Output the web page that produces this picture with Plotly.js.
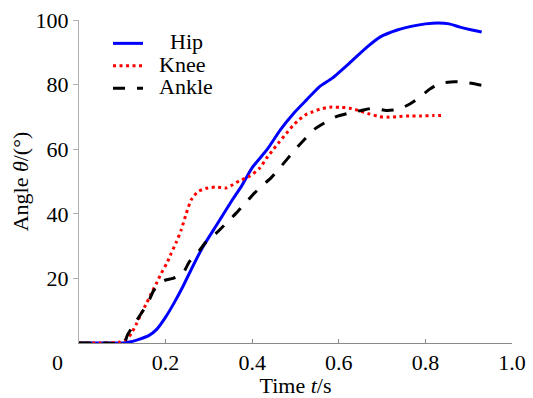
<!DOCTYPE html>
<html>
<head>
<meta charset="utf-8">
<script src="https://cdn.plot.ly/plotly-3.0.1.min.js"></script>
<style>html,body{margin:0;padding:0;background:#fff;}#chart{width:533px;height:398px;}</style>
</head>
<body>
<div id="chart"></div>
<script>
// ---- data (time in s, angle in degrees) ----
var hipT = [0, 0.06, 0.10, 0.12, 0.14, 0.16, 0.18, 0.20, 0.22, 0.24, 0.26, 0.285, 0.32, 0.355, 0.375, 0.40, 0.435, 0.465, 0.495, 0.525, 0.555, 0.585, 0.625, 0.665, 0.695, 0.735, 0.77, 0.80, 0.83, 0.855, 0.88, 0.905, 0.93];
var hipY = [0, 0, 0, 0.4, 1.2, 2.2, 4.3, 8.0, 12.5, 17.5, 23.0, 29.5, 37.0, 44.5, 48.5, 54.3, 60.0, 66.0, 71.0, 75.2, 79.3, 82.0, 86.7, 91.6, 94.7, 96.9, 98.1, 98.8, 99.1, 98.8, 97.8, 97.0, 96.3];

var kneeT = [0, 0.06, 0.095, 0.11, 0.121, 0.133, 0.144, 0.156, 0.167, 0.179, 0.19, 0.202, 0.213, 0.225, 0.236, 0.248, 0.259, 0.275, 0.294, 0.317, 0.34, 0.355, 0.371, 0.394, 0.417, 0.433, 0.448, 0.463, 0.479, 0.494, 0.509, 0.525, 0.54, 0.556, 0.579, 0.602, 0.625, 0.648, 0.671, 0.694, 0.717, 0.74, 0.763, 0.787, 0.817, 0.844];
var kneeY = [0, 0, 0.3, 1.2, 3.0, 6.0, 9.2, 12.3, 15.4, 18.5, 21.6, 24.5, 27.8, 31.3, 35.0, 40.2, 44.3, 46.9, 47.9, 48.3, 48.0, 49.0, 50.3, 51.6, 54.1, 57.2, 59.8, 62.3, 64.9, 67.3, 69.2, 70.8, 71.6, 72.4, 73.0, 73.0, 72.7, 71.9, 70.9, 70.1, 69.9, 70.1, 70.3, 70.3, 70.4, 70.5];

var ankleT = [0, 0.06, 0.104, 0.112, 0.121, 0.144, 0.159, 0.171, 0.186, 0.20, 0.217, 0.24, 0.255, 0.279, 0.294, 0.317, 0.34, 0.363, 0.382, 0.405, 0.425, 0.444, 0.463, 0.502, 0.544, 0.594, 0.621, 0.652, 0.679, 0.71, 0.737, 0.764, 0.787, 0.81, 0.833, 0.867, 0.895, 0.93];
var ankleY = [0, 0, 0, 2.5, 4.5, 9.2, 12.3, 15.9, 18.5, 19.5, 20.0, 21.6, 25.2, 28.8, 31.4, 34.0, 37.1, 40.2, 43.0, 46.4, 48.9, 51.2, 54.1, 60.3, 66.2, 70.1, 71.1, 72.0, 72.7, 72.0, 72.3, 74.0, 76.1, 78.6, 80.4, 80.9, 80.6, 79.8];

var seriesNames = ["Hip", "Knee", "Ankle"];
var xTickVals = [0.2, 0.4, 0.6, 0.8, 1.0];
var xTickText = ["0.2", "0.4", "0.6", "0.8", "1.0"];
var yTickVals = [20, 40, 60, 80, 100];
var yTickText = ["20", "40", "60", "80", "100"];
var cornerLabel = "0";

var FONT = '"Liberation Serif", "Times New Roman", serif';
function legendName(s, pad) {
  return '<span style="font-size:22px">' + pad + s + '</span>';
}

var traces = [
  {x: hipT, y: hipY, name: legendName(seriesNames[0], '\u00a0\u00a0\u00a0\u00a0'), mode: 'lines',
   line: {color: '#0000ff', width: 3, shape: 'spline', smoothing: 0.5}},
  {x: kneeT, y: kneeY, name: legendName(seriesNames[1], '\u00a0\u00a0'), mode: 'lines',
   line: {color: '#ff0000', width: 3, dash: '3px,3.5px', shape: 'spline', smoothing: 0.5}},
  {x: ankleT, y: ankleY, name: legendName(seriesNames[2], '\u00a0\u00a0'), mode: 'lines',
   line: {color: '#000000', width: 3, dash: '12px,12px', shape: 'spline', smoothing: 0.5}}
];

var layout = {
  width: 533, height: 398,
  margin: {l: 79, r: 21, t: 20, b: 55},
  paper_bgcolor: '#ffffff', plot_bgcolor: '#ffffff',
  font: {family: FONT, size: 22, color: '#000'},
  showlegend: true,
  legend: {x: 0.067, y: 0.978, xanchor: 'left', yanchor: 'top',
           bgcolor: 'rgba(0,0,0,0)', borderwidth: 0,
           font: {family: FONT, size: 15, color: '#000'}, tracegroupgap: 0},
  xaxis: {range: [0, 1.0], showgrid: false, zeroline: false, showline: true,
          linecolor: '#8a8a8a', linewidth: 1, ticks: 'inside', ticklen: 4, tickcolor: '#8a8a8a',
          tickvals: xTickVals, ticktext: xTickText, tickfont: {family: FONT, size: 22},
          title: {text: 'Time <i>t</i>/s', font: {family: FONT, size: 22}, standoff: 8}},
  yaxis: {range: [0, 100], showgrid: false, zeroline: false, showline: true,
          linecolor: '#b0b0b0', linewidth: 1, ticks: 'outside', ticklen: 5, tickcolor: '#b0b0b0',
          tickvals: yTickVals, ticktext: yTickText, tickfont: {family: FONT, size: 22},
          title: {text: 'Angle <i>θ</i>/(°)', font: {family: FONT, size: 22}, standoff: 0}},
  annotations: [{text: cornerLabel, xref: 'paper', yref: 'paper', x: -0.049, y: -0.06,
                 xanchor: 'center', yanchor: 'middle', showarrow: false,
                 font: {family: FONT, size: 22, color: '#000'}}]
};

Plotly.newPlot('chart', traces, layout, {staticPlot: true, displayModeBar: false});
</script>
</body>
</html>
